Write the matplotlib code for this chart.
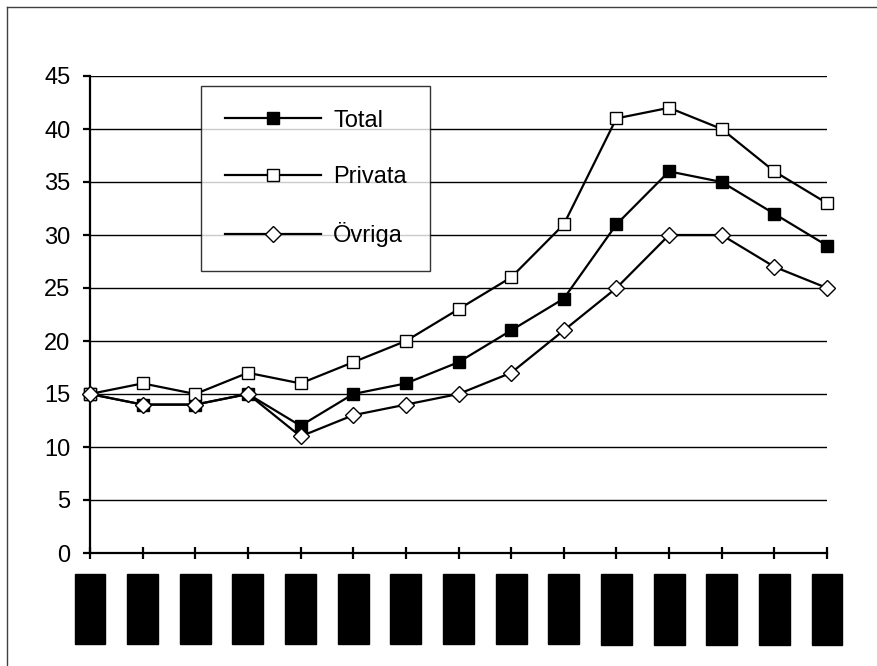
import matplotlib
matplotlib.use('Agg')
import matplotlib.pyplot as plt
from matplotlib.lines import Line2D

plt.rcParams['font.family'] = ['Liberation Sans', 'DejaVu Sans']

# kategorier (etiketterna är svärtade i originalet)
categories = ['1990/91', '1991/92', '1992/93', '1993/94', '1994/95', '1995/96', '1996/97',
              '1997/98', '1998/99', '1999/00', '2000/01', '2001/02', '2002/03', '2003/04', '2004/05']

total = [15, 14, 14, 15, 12, 15, 16, 18, 21, 24, 31, 36, 35, 32, 29]
privata = [15, 16, 15, 17, 16, 18, 20, 23, 26, 31, 41, 42, 40, 36, 33]
ovriga = [15, 14, 14, 15, 11, 13, 14, 15, 17, 21, 25, 30, 30, 27, 25]

yticks = [0, 5, 10, 15, 20, 25, 30, 35, 40, 45]

fig = plt.figure(figsize=(8.77, 6.66), dpi=100)
ax = fig.add_axes([90 / 877, 113 / 666, 737 / 877, 477 / 666])

x = list(range(len(categories)))

# stödlinjer
for y in yticks[1:]:
    ax.axhline(y, color='black', lw=1.0, zorder=1)

ax.plot(x, total, color='black', lw=1.6, marker='s', ms=8.6, clip_on=False,
        markerfacecolor='black', markeredgecolor='black', label='Total', zorder=3)
ax.plot(x, privata, color='black', lw=1.6, marker='s', ms=8.6, clip_on=False,
        markerfacecolor='white', markeredgecolor='black', mew=1.0, label='Privata', zorder=3)
ax.plot(x, ovriga, color='black', lw=1.6, marker='D', ms=8.4, clip_on=False,
        markerfacecolor='white', markeredgecolor='black', mew=1.0, label='Övriga', zorder=4)

ax.set_xlim(0, len(categories) - 1)
ax.set_ylim(0, 45)
ax.set_yticks(yticks)
ax.set_yticklabels([str(v) for v in yticks], fontsize=17)
ax.set_xticks(x)
ax.set_xticklabels(categories, rotation=90, fontsize=10.5, color='black',
                   bbox=dict(boxstyle='square,pad=0.58', facecolor='black', edgecolor='black'))

for s in ['top', 'right']:
    ax.spines[s].set_visible(False)
for s in ['left', 'bottom']:
    ax.spines[s].set_linewidth(1.6)
ax.tick_params(axis='y', direction='out', length=5, width=1.6, pad=9)
ax.tick_params(axis='x', direction='inout', length=9, width=1.6, pad=17)

leg = ax.legend(loc='upper left', bbox_to_anchor=(201 / 877, 1 - 86 / 666),
                bbox_transform=fig.transFigure, fontsize=17, frameon=True,
                fancybox=False, edgecolor='black', handlelength=4.1,
                handletextpad=0.5, labelspacing=1.45, borderpad=1.0,
                markerscale=1.0, borderaxespad=0)
leg.get_frame().set_linewidth(1.0)

# ram runt diagrammet
fig.add_artist(Line2D([7 / 877, 1.0], [1 - 7 / 666, 1 - 7 / 666], color='#404040', lw=1.0,
                      transform=fig.transFigure))
fig.add_artist(Line2D([7 / 877, 7 / 877], [0.0, 1 - 7 / 666], color='#404040', lw=1.0,
                      transform=fig.transFigure))

fig.savefig('out.png', dpi=100)
